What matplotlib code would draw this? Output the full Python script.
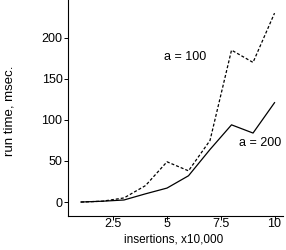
import matplotlib
matplotlib.use("Agg")
import matplotlib.pyplot as plt

plt.rcParams.update({
    "font.family": ["Liberation Sans", "DejaVu Sans"],
    "font.size": 9,
})

insertions = [1, 2, 3, 4, 5, 6, 7, 8, 9, 10]
a100 = [0, 1, 5, 20, 49, 38, 75, 185, 170, 230]
a200 = [0, 1, 2.5, 10, 17, 32, 64, 94, 84, 121]
xticks = [2.5, 5, 7.5, 10]
xticklabels = ["2.5", "5", "7.5", "10"]
yticks = [0, 50, 100, 150, 200]

fig = plt.figure(figsize=(2.86, 2.5), dpi=100)
ax = fig.add_axes([0.238, 0.136, 0.752, 0.864])

ax.plot(insertions, a100, color="black", linewidth=0.9, linestyle=(0, (2.4, 1.6)))
ax.plot(insertions, a200, color="black", linewidth=0.9)

ax.set_xlim(0.4, 10.4)
ax.set_ylim(-17, 246)
ax.set_xticks(xticks)
ax.set_xticklabels(xticklabels)
ax.set_yticks(yticks)

for side in ["top", "right"]:
    ax.spines[side].set_visible(False)
for side in ["left", "bottom"]:
    ax.spines[side].set_linewidth(0.8)
ax.tick_params(axis="both", direction="out", length=3, width=0.7, labelsize=9)
ax.tick_params(axis="x", pad=-1.5)
ax.tick_params(axis="y", pad=1)

ax.text(5.85, 176, "a = 100", ha="center", va="center", fontsize=9)
ax.text(9.35, 72, "a = 200", ha="center", va="center", fontsize=9)

# axis titles placed in figure pixels to match the original layout
fig.text(173.5 / 286, 1 - 240 / 250, "insertions, x10,000", ha="center", va="center", fontsize=8.5)
fig.text(10 / 286, 1 - 111 / 250, "run time, msec.", ha="center", va="center",
         rotation=90, fontsize=9.5)

fig.savefig("out.png", dpi=100)
